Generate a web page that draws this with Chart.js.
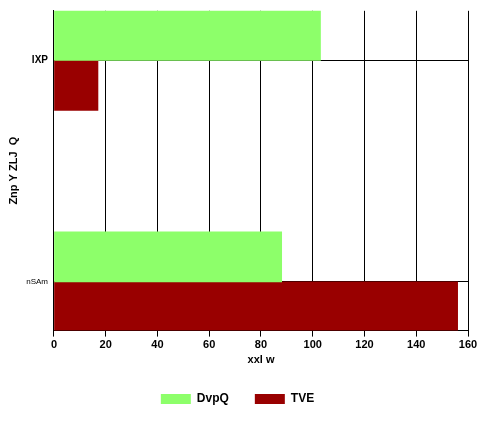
<!DOCTYPE html>
<html>
<head>
<meta charset="utf-8">
<script src="https://cdn.jsdelivr.net/npm/chart.js@4"></script>
<style>
  body { margin: 0; background: #fff; }
  #wrap { width: 488px; height: 427px; }
</style>
</head>
<body>
<div id="wrap"><canvas id="chart"></canvas></div>
<script>
const categories = ['IXP', 'nSAm'];
const seriesNames = ['DvpQ', 'TVE'];
const dvpqValues = [103, 88];
const tveValues = [17, 156];
const xTicks = [0, 20, 40, 60, 80, 100, 120, 140, 160];

const font = 'Liberation Sans Narrow, Liberation Sans, Arial, sans-serif';

new Chart(document.getElementById('chart'), {
  type: 'bar',
  data: {
    labels: categories,
    datasets: [
      { label: seriesNames[0], data: dvpqValues, backgroundColor: '#8dff6a', barThickness: 50 },
      { label: seriesNames[1], data: tveValues, backgroundColor: '#990000', barThickness: 50 }
    ]
  },
  options: {
    indexAxis: 'y',
    responsive: true,
    maintainAspectRatio: false,
    animation: false,
    layout: { padding: { top: 7, right: 20, left: 7, bottom: 12 } },
    scales: {
      x: {
        type: 'linear',
        min: 0,
        max: 160,
        afterBuildTicks: (axis) => { axis.ticks = xTicks.map(v => ({ value: v })); },
        grid: { color: '#000', drawTicks: true, tickLength: 6 },
        border: { color: '#000' },
        ticks: { color: '#000', font: { family: font, size: 11, weight: 'bold' }, padding: 2 },
        title: { display: true, text: 'xxl w', color: '#000', font: { family: font, size: 11, weight: 'bold' }, padding: 0 }
      },
      y: {
        type: 'category',
        offset: true,
        // stretch the category spacing like the reference (centres 50px in from each edge)
        afterFit: (axis) => { axis._startValue = -0.224; axis._valueRange = 1.444; },
        grid: { color: '#000', drawTicks: false, offset: false },
        border: { color: '#000' },
        ticks: {
          color: '#000',
          padding: 6,
          font: (ctx) => ({ family: font, size: ctx.index === 0 ? 10 : 8, weight: ctx.index === 0 ? 'bold' : 'normal' })
        },
        title: { display: true, text: 'Znp Y ZLJ  Q', color: '#000', font: { family: font, size: 11, weight: 'bold' }, padding: 0 }
      }
    },
    plugins: {
      legend: {
        position: 'bottom',
        labels: { color: '#000', boxWidth: 30, boxHeight: 10, padding: 26, font: { family: font, size: 12, weight: 'bold' } }
      },
      tooltip: { enabled: false }
    }
  }
});
</script>
</body>
</html>
